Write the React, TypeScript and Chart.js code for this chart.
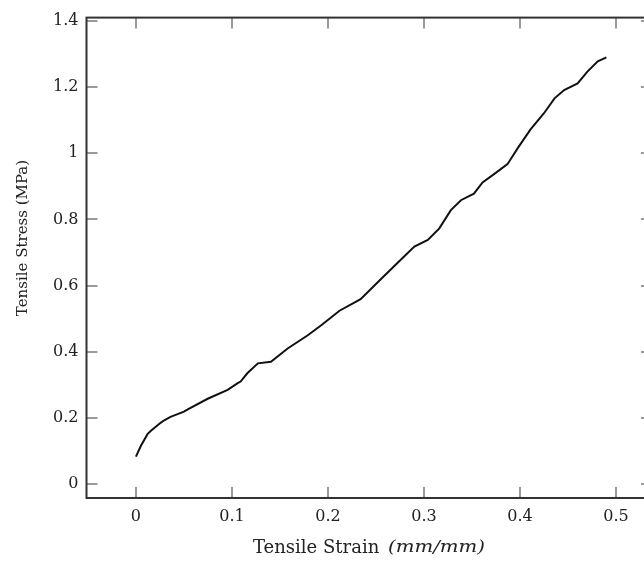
import React, { useEffect, useRef } from "react";
import { Chart, registerables } from "chart.js";

Chart.register(...registerables);

const strain = [0, 0.0052, 0.012, 0.0156, 0.026, 0.0295, 0.036, 0.05, 0.054, 0.0747, 0.0955, 0.106, 0.109, 0.116, 0.127, 0.1406, 0.158, 0.179, 0.193, 0.212, 0.234, 0.255, 0.2726, 0.29, 0.304, 0.316, 0.328, 0.3385, 0.352, 0.361, 0.373, 0.387, 0.398, 0.411, 0.425, 0.436, 0.446, 0.46, 0.47, 0.481, 0.49];
const stress = [0.083, 0.116, 0.151, 0.161, 0.186, 0.193, 0.203, 0.219, 0.226, 0.258, 0.285, 0.305, 0.31, 0.335, 0.365, 0.37, 0.41, 0.45, 0.48, 0.524, 0.559, 0.619, 0.669, 0.718, 0.738, 0.773, 0.828, 0.858, 0.878, 0.912, 0.937, 0.967, 1.017, 1.072, 1.121, 1.166, 1.191, 1.211, 1.246, 1.278, 1.29];
const xTicks = [0, 0.1, 0.2, 0.3, 0.4, 0.5];
const yTicks = [0, 0.2, 0.4, 0.6, 0.8, 1, 1.2, 1.4];
const xTitleMain = "Tensile Strain";
const xTitleUnit = "(mm/mm)";
const yTitle = "Tensile Stress (MPa)";

const FONT = "'DejaVu Serif', serif";

const framePlugin = {
  id: "frame",
  afterDraw(chart: any) {
    const { ctx, chartArea } = chart;
    const { left, right, top, bottom } = chartArea;
    const xs = chart.scales.x;
    const ys = chart.scales.y;
    ctx.save();
    ctx.strokeStyle = "#9a9a9a";
    ctx.lineWidth = 2;
    const tl = 11;
    xTicks.forEach((v) => {
      const px = Math.round(xs.getPixelForValue(v));
      ctx.beginPath();
      ctx.moveTo(px, bottom);
      ctx.lineTo(px, bottom - tl);
      ctx.moveTo(px, top);
      ctx.lineTo(px, top + tl);
      ctx.stroke();
    });
    yTicks.forEach((v) => {
      const py = Math.round(ys.getPixelForValue(v));
      ctx.beginPath();
      ctx.moveTo(left, py);
      ctx.lineTo(left + tl, py);
      ctx.moveTo(right, py);
      ctx.lineTo(right - tl, py);
      ctx.stroke();
    });
    ctx.strokeStyle = "#333";
    ctx.lineWidth = 2;
    ctx.strokeRect(left, top, right - left, bottom - top);

    ctx.fillStyle = "#222";
    ctx.textBaseline = "middle";
    ctx.textAlign = "left";
    ctx.font = `18px ${FONT}`;
    ctx.fillText(xTitleMain, 253, 548);
    ctx.font = `italic 17px ${FONT}`;
    const w2 = ctx.measureText(xTitleUnit).width;
    ctx.save();
    ctx.translate(388, 548);
    ctx.scale(97 / w2, 1);
    ctx.fillText(xTitleUnit, 0, 0);
    ctx.restore();

    ctx.translate(23, 238);
    ctx.rotate(-Math.PI / 2);
    ctx.textAlign = "center";
    ctx.font = `15px ${FONT}`;
    ctx.fillText(yTitle, 0, 0);
    ctx.restore();
  },
};

export default function App() {
  const ref = useRef<HTMLCanvasElement>(null);
  useEffect(() => {
    document.body.style.margin = "0";
    const canvas = ref.current!;
    const chart = new Chart(canvas, {
      type: "scatter",
      data: {
        datasets: [
          {
            data: strain.map((x, i) => ({ x, y: stress[i] })),
            showLine: true,
            borderColor: "#111",
            borderWidth: 2,
            pointRadius: 0,
            tension: 0,
          },
        ],
      },
      options: {
        responsive: false,
        animation: false,
        layout: { padding: { top: 12, right: 4, left: 0, bottom: 0 } },
        plugins: { legend: { display: false }, tooltip: { enabled: false } },
        scales: {
          x: {
            type: "linear",
            min: -0.0515,
            max: 0.5375,
            grid: { display: false, drawTicks: false },
            border: { display: false },
            afterBuildTicks: (s: any) => {
              s.ticks = xTicks.map((v) => ({ value: v }));
            },
            afterFit: (s: any) => {
              s.height = 67;
            },
            ticks: {
              padding: 9,
              color: "#222",
              font: { family: FONT, size: 16 },
              maxRotation: 0,
              callback: (v: any) => String(Math.round(Number(v) * 10) / 10),
            },
          },
          y: {
            type: "linear",
            min: -0.042,
            max: 1.41,
            grid: { display: false, drawTicks: false },
            border: { display: false },
            afterBuildTicks: (s: any) => {
              s.ticks = yTicks.map((v) => ({ value: v }));
            },
            afterFit: (s: any) => {
              s.width = 86.5;
            },
            ticks: {
              padding: 8,
              color: "#222",
              font: { family: FONT, size: 16 },
              callback: (v: any) => String(Math.round(Number(v) * 10) / 10),
            },
          },
        },
      },
      plugins: [framePlugin],
    });
    return () => chart.destroy();
  }, []);
  return (
    <div style={{ width: 644, height: 565, overflow: "hidden", background: "#fff" }}>
      <canvas ref={ref} width={656} height={565} style={{ display: "block" }} />
    </div>
  );
}
